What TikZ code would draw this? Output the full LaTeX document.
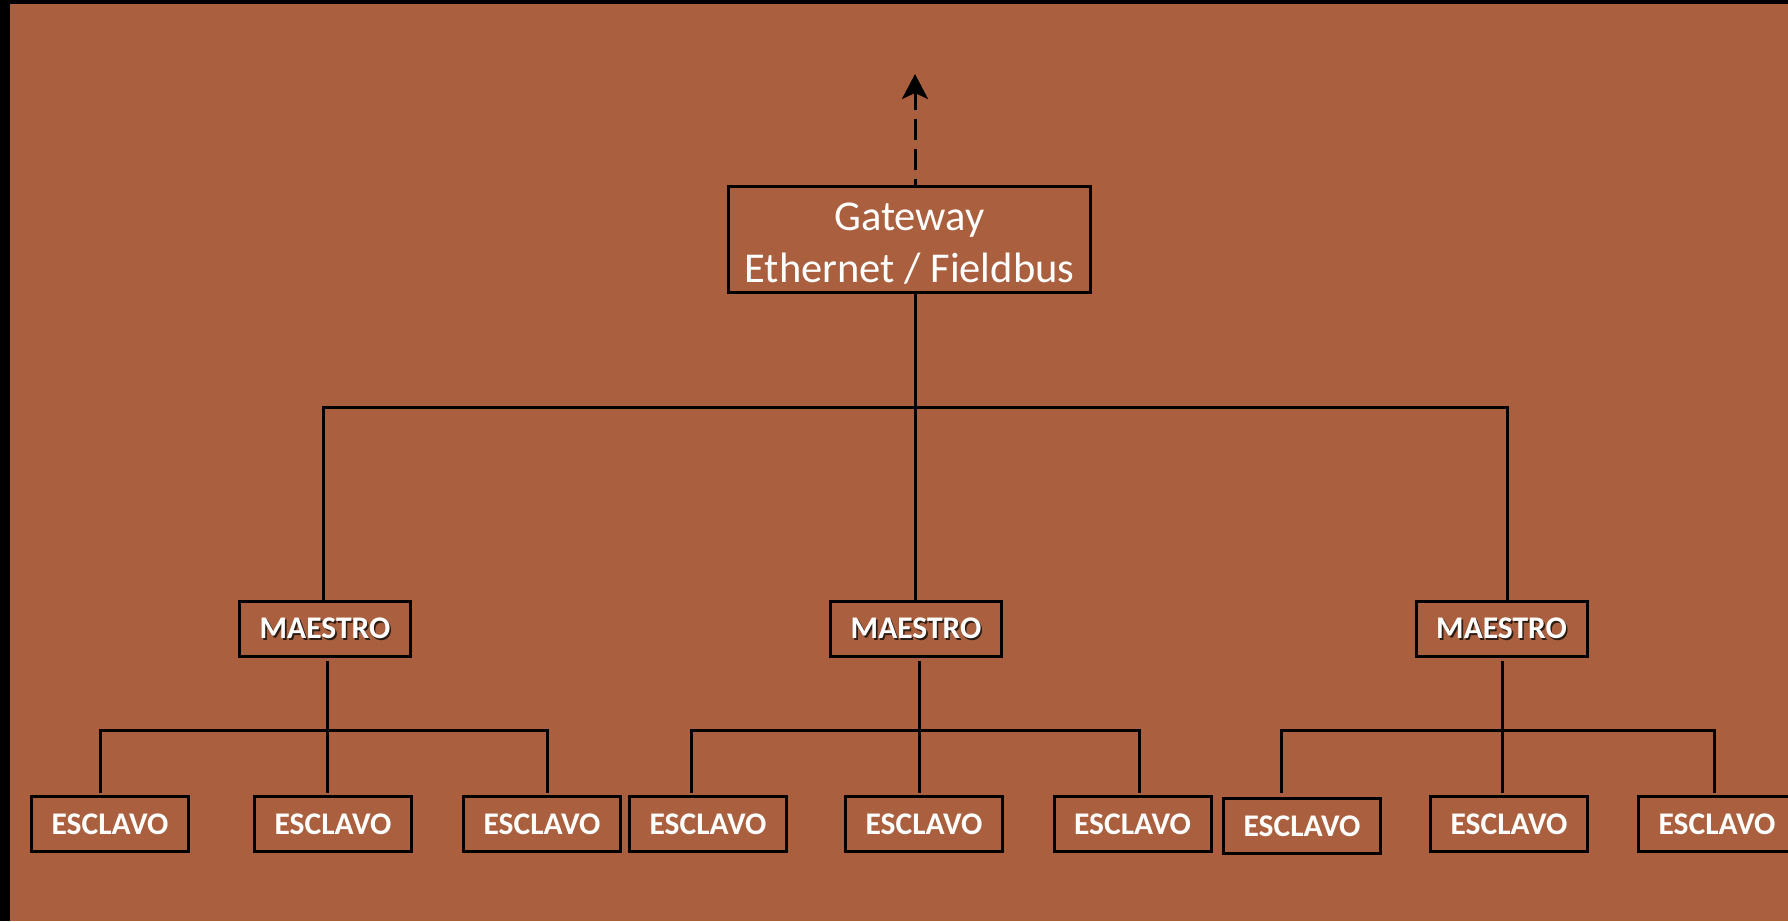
\documentclass[tikz,border=0pt]{standalone}
\usepackage{fontspec}
\setmainfont{Carlito}
\usetikzlibrary{arrows.meta}
\definecolor{bgc}{RGB}{170,96,62}
\definecolor{shadowc}{RGB}{45,28,20}
\newcommand{\shtext}[1]{\makebox[0pt][l]{\hspace{1.6pt}\raisebox{-1.6pt}{\color{shadowc}#1}}#1}
\tikzset{
  box/.style={draw=black, line width=3pt, fill=bgc, text=white, inner sep=0pt},
  gwbox/.style={box, minimum width=362pt, minimum height=106pt, align=center,
    font=\fontsize{42.5pt}{52pt}\selectfont},
  mbox/.style={box, minimum width=171pt, minimum height=55pt,
    font=\fontsize{31.5pt}{36pt}\selectfont\bfseries},
  sbox/.style={box, minimum width=157pt, minimum height=55pt,
    font=\fontsize{31.5pt}{36pt}\selectfont\bfseries},
  conn/.style={draw=black, line width=3pt},
  dasharrow/.style={conn, dash pattern=on 21pt off 9pt, dash phase=15pt,
    -{Stealth[length=25pt, width=26pt, inset=6pt]}}
}
\begin{document}
\begin{tikzpicture}[x=1pt,y=-1pt]
\useasboundingbox (0,0) rectangle (1788,921);
\fill[bgc] (0,0) rectangle (1788,921);
\fill[black] (0,0) rectangle (10,921);
\fill[black] (0,0) rectangle (1788,4);

% nodes
\node[gwbox] (gw) at (909.5,239.5) {\rule{0pt}{36pt}Gateway\\Ethernet / Fieldbus};
\node[mbox] (m1) at (325,629) {\shtext{MAESTRO}};
\node[mbox] (m2) at (916,629) {\shtext{MAESTRO}};
\node[mbox] (m3) at (1501.5,629) {\shtext{MAESTRO}};

\node[sbox] (s1) at (110,824) {ESCLAVO};
\node[sbox] (s2) at (333,824) {ESCLAVO};
\node[sbox] (s3) at (542,824) {ESCLAVO};
\node[sbox] (s4) at (708,824) {ESCLAVO};
\node[sbox] (s5) at (924,824) {ESCLAVO};
\node[sbox] (s6) at (1132.5,824) {ESCLAVO};
\node[sbox] (s7) at (1302,826) {ESCLAVO};
\node[sbox] (s8) at (1509,824) {ESCLAVO};
\node[sbox] (s9) at (1717,824) {ESCLAVO};

% coordinates
\coordinate (top) at (915,74);
\coordinate (busL) at (323,407);
\coordinate (busM) at (915,407);
\coordinate (busR) at (1507,407);
\coordinate (b1) at (100,730);
\coordinate (b2) at (327,730);
\coordinate (b3) at (547,730);
\coordinate (b4) at (691,730);
\coordinate (b5) at (919,730);
\coordinate (b6) at (1139,730);
\coordinate (b7) at (1281,730);
\coordinate (b8) at (1502,730);
\coordinate (b9) at (1714,730);

% uplink
\draw[dasharrow] (gw.north -| top) -- (top);

% gateway to masters
\draw[conn] (gw.south -| busM) -- (m2.north -| busM);
\draw[conn] (m1.north -| busL) -- (busL) -- (busR) -- (m3.north -| busR);

% master 1 group
\draw[conn, shorten <=2pt, shorten >=2pt] (s1.north -| b1) -- (b1) -- (b3) -- (s3.north -| b3);
\draw[conn, shorten <=3pt, shorten >=2pt] (m1.south -| b2) -- (s2.north -| b2);
% master 2 group
\draw[conn, shorten <=2pt, shorten >=2pt] (s4.north -| b4) -- (b4) -- (b6) -- (s6.north -| b6);
\draw[conn, shorten <=3pt, shorten >=2pt] (m2.south -| b5) -- (s5.north -| b5);
% master 3 group
\draw[conn, shorten <=4pt, shorten >=2pt] (s7.north -| b7) -- (b7) -- (b9) -- (s9.north -| b9);
\draw[conn, shorten <=3pt, shorten >=2pt] (m3.south -| b8) -- (s8.north -| b8);
\end{tikzpicture}
\end{document}
